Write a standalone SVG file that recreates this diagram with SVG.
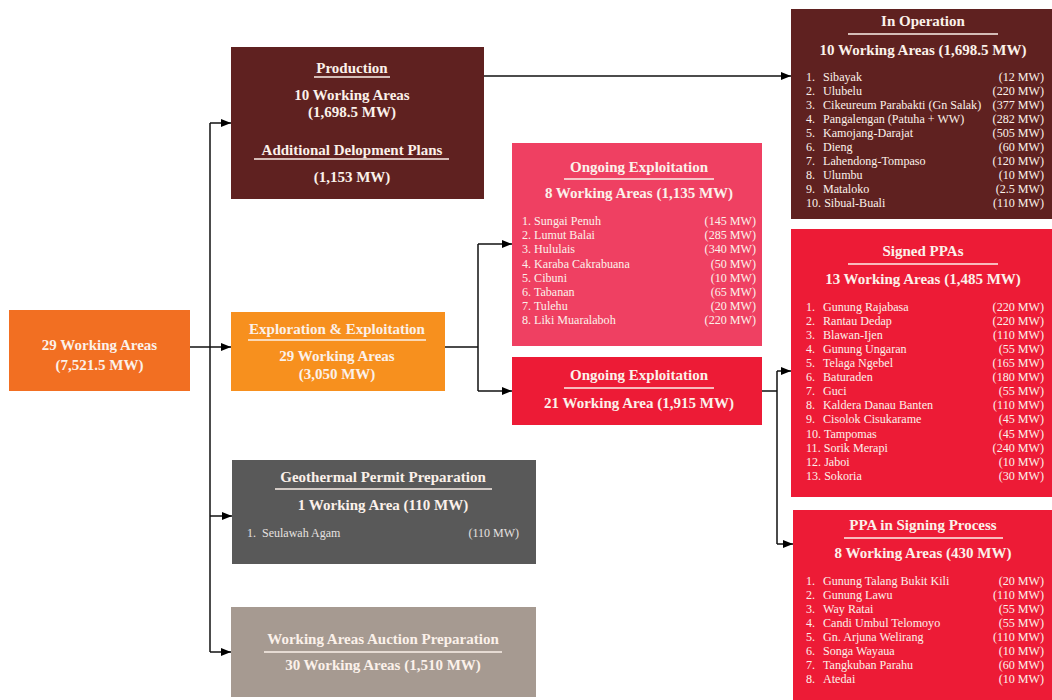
<svg xmlns="http://www.w3.org/2000/svg" width="1052" height="700" viewBox="0 0 1052 700">
<defs>
<style>
.t{font-family:"Liberation Serif","Times New Roman",serif;fill:#FBF1EA}
.h{font-weight:bold;font-size:15px;text-anchor:middle}
.li{font-size:12.1px}
.sm{font-size:12px;fill:#E6E2E0}
.r{text-anchor:end}
.ul{stroke:#FBF1EA;stroke-width:1.5}
.c{fill:none;stroke:#111;stroke-width:1.5}
</style>
<marker id="ah" markerWidth="10" markerHeight="8" refX="10" refY="4" orient="auto" markerUnits="userSpaceOnUse"><path d="M0,0 L10,4 L0,8 z" fill="#000"/></marker>
</defs>
<rect width="1052" height="700" fill="#fff"/>

<g id="connectors">
<path class="c" d="M190,347 H231" marker-end="url(#ah)"/>
<path class="c" d="M210,123 V652"/>
<path class="c" d="M210,123 H231" marker-end="url(#ah)"/>
<path class="c" d="M210,516 H232" marker-end="url(#ah)"/>
<path class="c" d="M210,652 H231" marker-end="url(#ah)"/>
<path class="c" d="M484,76 H791" marker-end="url(#ah)"/>
<path class="c" d="M445,347 H478 M478,244 V391"/>
<path class="c" d="M478,244 H512" marker-end="url(#ah)"/>
<path class="c" d="M478,391 H512" marker-end="url(#ah)"/>
<path class="c" d="M762,391 H777 M777,371 V544"/>
<path class="c" d="M777,371 H791" marker-end="url(#ah)"/>
<path class="c" d="M777,544 H793" marker-end="url(#ah)"/>
</g>

<g id="root">
<rect x="9" y="310" width="181" height="81" fill="#F26F22"/>
<text class="t h" x="99.5" y="350">29 Working Areas</text>
<text class="t h" x="99.5" y="370">(7,521.5 MW)</text>
</g>

<g id="production">
<rect x="231" y="47" width="253" height="152" fill="#5F2120"/>
<text class="t h" x="352" y="73">Production</text>
<line class="ul" x1="314" y1="77" x2="390" y2="77"/>
<text class="t h" x="352" y="100">10 Working Areas</text>
<text class="t h" x="352" y="117">(1,698.5 MW)</text>
<text class="t h" x="352" y="155">Additional Delopment Plans</text>
<line class="ul" x1="254" y1="159" x2="449" y2="159"/>
<text class="t h" x="352" y="182">(1,153 MW)</text>
</g>

<g id="exploration">
<rect x="231" y="312" width="214" height="79" fill="#F7901E"/>
<text class="t h" x="337" y="334">Exploration &amp; Exploitation</text>
<line class="ul" x1="248" y1="340" x2="426" y2="340"/>
<text class="t h" x="337" y="361">29 Working Areas</text>
<text class="t h" x="337" y="379">(3,050 MW)</text>
</g>

<g id="geothermal-permit">
<rect x="232" y="460" width="304" height="104" fill="#595959"/>
<text class="t h" x="383" y="482">Geothermal Permit Preparation</text>
<line class="ul" x1="275" y1="489" x2="492" y2="489"/>
<text class="t h" x="383" y="510">1 Working Area (110 MW)</text>
<text class="t sm" x="247" y="537" xml:space="preserve">1.  Seulawah Agam</text>
<text class="t sm r" x="519" y="537">(110 MW)</text>
</g>

<g id="auction">
<rect x="231" y="607" width="305" height="90" fill="#A69A91"/>
<text class="t h" x="383" y="644">Working Areas Auction Preparation</text>
<line class="ul" x1="264" y1="652" x2="502" y2="652"/>
<text class="t h" x="383" y="670">30 Working Areas (1,510 MW)</text>
</g>

<g id="ongoing-8">
<rect x="512" y="143" width="250" height="203" fill="#EF4062"/>
<text class="t h" x="639" y="172">Ongoing Exploitation</text>
<line class="ul" x1="564" y1="179" x2="714" y2="179"/>
<text class="t h" x="639" y="198">8 Working Areas (1,135 MW)</text>
<g class="t li">
<text x="522" y="225">1. Sungai Penuh</text><text class="r" x="756" y="225">(145 MW)</text>
<text x="522" y="239">2. Lumut Balai</text><text class="r" x="756" y="239">(285 MW)</text>
<text x="522" y="253">3. Hululais</text><text class="r" x="756" y="253">(340 MW)</text>
<text x="522" y="268">4. Karaba Cakrabuana</text><text class="r" x="756" y="268">(50 MW)</text>
<text x="522" y="282">5. Cibuni</text><text class="r" x="756" y="282">(10 MW)</text>
<text x="522" y="296">6. Tabanan</text><text class="r" x="756" y="296">(65 MW)</text>
<text x="522" y="310">7. Tulehu</text><text class="r" x="756" y="310">(20 MW)</text>
<text x="522" y="324">8. Liki Muaralaboh</text><text class="r" x="756" y="324">(220 MW)</text>
</g>
</g>

<g id="ongoing-21">
<rect x="512" y="357" width="250" height="68" fill="#ED1B36"/>
<text class="t h" x="639" y="380">Ongoing Exploitation</text>
<line class="ul" x1="564" y1="388" x2="714" y2="388"/>
<text class="t h" x="639" y="408">21 Working Area (1,915 MW)</text>
</g>

<g id="in-operation">
<rect x="791" y="9" width="261" height="210" fill="#5F2120"/>
<text class="t h" x="923" y="26">In Operation</text>
<line class="ul" x1="848" y1="34" x2="998" y2="34"/>
<text class="t h" x="923" y="55">10 Working Areas (1,698.5 MW)</text>
<g class="t li">
<text x="806" y="81">1.</text><text x="823" y="81">Sibayak</text><text class="r" x="1044" y="81">(12 MW)</text>
<text x="806" y="95">2.</text><text x="823" y="95">Ulubelu</text><text class="r" x="1044" y="95">(220 MW)</text>
<text x="806" y="109">3.</text><text x="823" y="109">Cikeureum Parabakti (Gn Salak)</text><text class="r" x="1044" y="109">(377 MW)</text>
<text x="806" y="123">4.</text><text x="823" y="123">Pangalengan (Patuha + WW)</text><text class="r" x="1044" y="123">(282 MW)</text>
<text x="806" y="137">5.</text><text x="823" y="137">Kamojang-Darajat</text><text class="r" x="1044" y="137">(505 MW)</text>
<text x="806" y="151">6.</text><text x="823" y="151">Dieng</text><text class="r" x="1044" y="151">(60 MW)</text>
<text x="806" y="165">7.</text><text x="823" y="165">Lahendong-Tompaso</text><text class="r" x="1044" y="165">(120 MW)</text>
<text x="806" y="179">8.</text><text x="823" y="179">Ulumbu</text><text class="r" x="1044" y="179">(10 MW)</text>
<text x="806" y="193">9.</text><text x="823" y="193">Mataloko</text><text class="r" x="1044" y="193">(2.5 MW)</text>
<text x="806" y="207">10. Sibual-Buali</text><text class="r" x="1044" y="207">(110 MW)</text>
</g>
</g>

<g id="signed-ppas">
<rect x="791" y="229" width="261" height="268" fill="#ED1B36"/>
<text class="t h" x="923" y="256">Signed PPAs</text>
<line class="ul" x1="848" y1="264" x2="998" y2="264"/>
<text class="t h" x="923" y="284">13 Working Areas (1,485 MW)</text>
<g class="t li">
<text x="806" y="311">1.</text><text x="823" y="311">Gunung Rajabasa</text><text class="r" x="1044" y="311">(220 MW)</text>
<text x="806" y="325">2.</text><text x="823" y="325">Rantau Dedap</text><text class="r" x="1044" y="325">(220 MW)</text>
<text x="806" y="339">3.</text><text x="823" y="339">Blawan-Ijen</text><text class="r" x="1044" y="339">(110 MW)</text>
<text x="806" y="353">4.</text><text x="823" y="353">Gunung Ungaran</text><text class="r" x="1044" y="353">(55 MW)</text>
<text x="806" y="367">5.</text><text x="823" y="367">Telaga Ngebel</text><text class="r" x="1044" y="367">(165 MW)</text>
<text x="806" y="381">6.</text><text x="823" y="381">Baturaden</text><text class="r" x="1044" y="381">(180 MW)</text>
<text x="806" y="395">7.</text><text x="823" y="395">Guci</text><text class="r" x="1044" y="395">(55 MW)</text>
<text x="806" y="409">8.</text><text x="823" y="409">Kaldera Danau Banten</text><text class="r" x="1044" y="409">(110 MW)</text>
<text x="806" y="423">9.</text><text x="823" y="423">Cisolok Cisukarame</text><text class="r" x="1044" y="423">(45 MW)</text>
<text x="806" y="438">10. Tampomas</text><text class="r" x="1044" y="438">(45 MW)</text>
<text x="806" y="452">11. Sorik Merapi</text><text class="r" x="1044" y="452">(240 MW)</text>
<text x="806" y="466">12. Jaboi</text><text class="r" x="1044" y="466">(10 MW)</text>
<text x="806" y="480">13. Sokoria</text><text class="r" x="1044" y="480">(30 MW)</text>
</g>
</g>

<g id="ppa-signing">
<rect x="793" y="510" width="259" height="190" fill="#ED1B36"/>
<text class="t h" x="923" y="530">PPA in Signing Process</text>
<line class="ul" x1="844" y1="538" x2="1003" y2="538"/>
<text class="t h" x="923" y="558">8 Working Areas (430 MW)</text>
<g class="t li">
<text x="806" y="585">1.</text><text x="823" y="585">Gunung Talang Bukit Kili</text><text class="r" x="1044" y="585">(20 MW)</text>
<text x="806" y="599">2.</text><text x="823" y="599">Gunung Lawu</text><text class="r" x="1044" y="599">(110 MW)</text>
<text x="806" y="613">3.</text><text x="823" y="613">Way Ratai</text><text class="r" x="1044" y="613">(55 MW)</text>
<text x="806" y="627">4.</text><text x="823" y="627">Candi Umbul Telomoyo</text><text class="r" x="1044" y="627">(55 MW)</text>
<text x="806" y="641">5.</text><text x="823" y="641">Gn. Arjuna Welirang</text><text class="r" x="1044" y="641">(110 MW)</text>
<text x="806" y="655">6.</text><text x="823" y="655">Songa Wayaua</text><text class="r" x="1044" y="655">(10 MW)</text>
<text x="806" y="669">7.</text><text x="823" y="669">Tangkuban Parahu</text><text class="r" x="1044" y="669">(60 MW)</text>
<text x="806" y="683">8.</text><text x="823" y="683">Atedai</text><text class="r" x="1044" y="683">(10 MW)</text>
</g>
</g>
</svg>
